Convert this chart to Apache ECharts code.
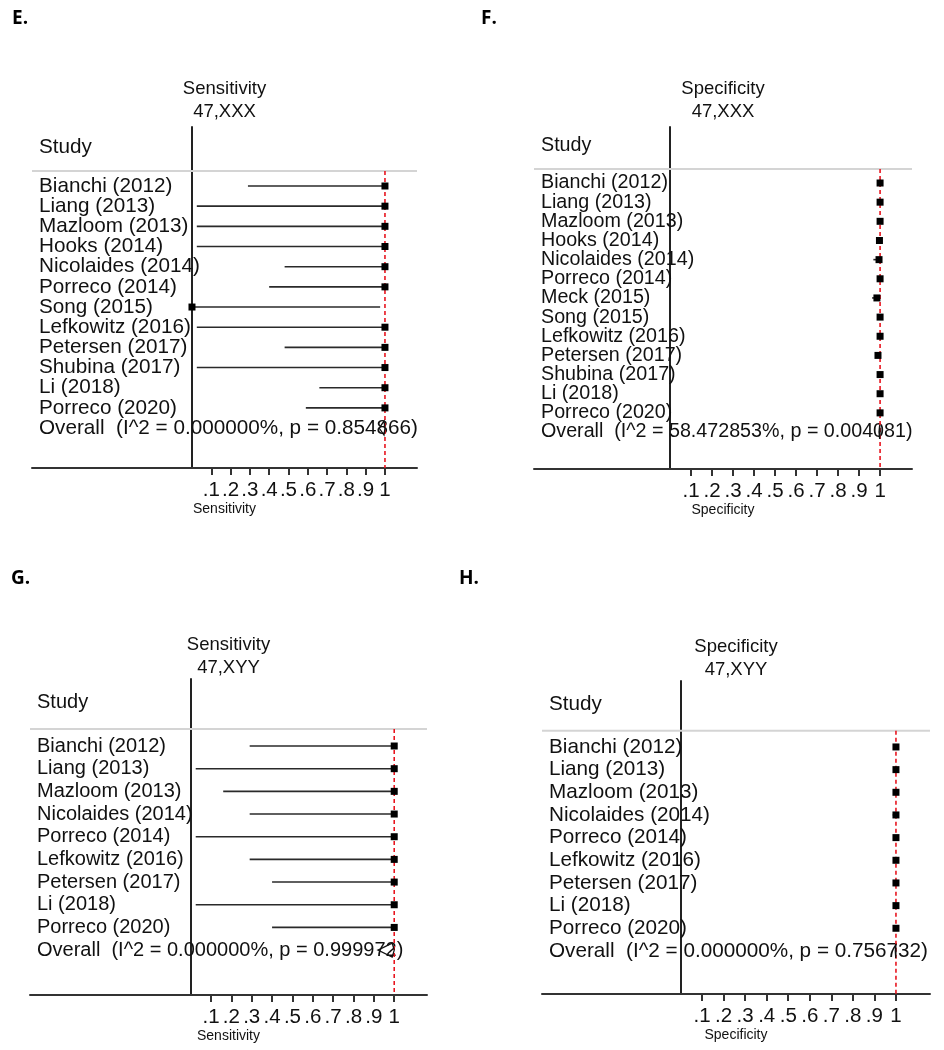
<!DOCTYPE html>
<html>
<head>
<meta charset="utf-8">
<script src="https://cdn.jsdelivr.net/npm/echarts@6/dist/echarts.min.js"></script>
<style>
html,body{margin:0;padding:0;background:#fff;}
#chart{width:944px;height:1050px;}
</style>
</head>
<body>
<div id="chart"></div>
<script>
// ---------------- DATA ----------------
const xTickValues = [0.1, 0.2, 0.3, 0.4, 0.5, 0.6, 0.7, 0.8, 0.9, 1];
const xTickLabels = ['.1', '.2', '.3', '.4', '.5', '.6', '.7', '.8', '.9', '1'];
const headerText = 'Study';

// Panel E: Sensitivity 47,XXX
const studiesE = ['Bianchi (2012)', 'Liang (2013)', 'Mazloom (2013)', 'Hooks (2014)', 'Nicolaides (2014)', 'Porreco (2014)', 'Song (2015)', 'Lefkowitz (2016)', 'Petersen (2017)', 'Shubina (2017)', 'Li (2018)', 'Porreco (2020)'];
const estE  = [1, 1, 1, 1, 1, 1, 0, 1, 1, 1, 1, 1];
const lowE  = [0.29, 0.025, 0.025, 0.025, 0.48, 0.40, 0, 0.025, 0.48, 0.025, 0.66, 0.59];
const highE = [1, 1, 1, 1, 1, 1, 0.975, 1, 1, 1, 1, 1];
const overallTextE = 'Overall  (I^2 = 0.000000%, p = 0.854866)';
const overallE = [0.97, 0.995, 1.0];

// Panel F: Specificity 47,XXX
const studiesF = ['Bianchi (2012)', 'Liang (2013)', 'Mazloom (2013)', 'Hooks (2014)', 'Nicolaides (2014)', 'Porreco (2014)', 'Meck (2015)', 'Song (2015)', 'Lefkowitz (2016)', 'Petersen (2017)', 'Shubina (2017)', 'Li (2018)', 'Porreco (2020)'];
const estF  = [1, 1, 1, 0.997, 0.995, 1, 0.985, 1, 1, 0.99, 1, 1, 1];
const lowF  = [0.995, 0.995, 0.995, 0.993, 0.968, 0.995, 0.962, 0.99, 0.995, 0.986, 0.995, 0.995, 0.995];
const highF = [1, 1, 1, 1, 1, 1, 0.997, 1, 1, 0.995, 1, 1, 1];
const overallTextF = 'Overall  (I^2 = 58.472853%, p = 0.004081)';
const overallF = [0.995, 0.998, 1.0];

// Panel G: Sensitivity 47,XYY
const studiesG = ['Bianchi (2012)', 'Liang (2013)', 'Mazloom (2013)', 'Nicolaides (2014)', 'Porreco (2014)', 'Lefkowitz (2016)', 'Petersen (2017)', 'Li (2018)', 'Porreco (2020)'];
const estG  = [1, 1, 1, 1, 1, 1, 1, 1, 1];
const lowG  = [0.29, 0.025, 0.16, 0.29, 0.025, 0.29, 0.40, 0.025, 0.40];
const highG = [1, 1, 1, 1, 1, 1, 1, 1, 1];
const overallTextG = 'Overall  (I^2 = 0.000000%, p = 0.999972)';
const overallG = [0.92, 0.99, 1.0];

// Panel H: Specificity 47,XYY
const studiesH = ['Bianchi (2012)', 'Liang (2013)', 'Mazloom (2013)', 'Nicolaides (2014)', 'Porreco (2014)', 'Lefkowitz (2016)', 'Petersen (2017)', 'Li (2018)', 'Porreco (2020)'];
const estH  = [1, 1, 1, 1, 1, 1, 1, 1, 1];
const lowH  = [0.995, 0.995, 0.995, 0.985, 0.995, 0.995, 0.995, 0.995, 0.995];
const highH = [1, 1, 1, 1, 1, 1, 1, 1, 1];
const overallTextH = 'Overall  (I^2 = 0.000000%, p = 0.756732)';
const overallH = [0.997, 0.999, 1.0];

// ---------------- LAYOUT / STYLE ----------------
const FONT = '"Liberation Sans", Arial, sans-serif';
const TXT = '#111';

const panels = [
  { letter: 'E.', letterX: 12, letterY: 19, title1: 'Sensitivity', title2: '47,XXX', axisName: 'Sensitivity', labelSize: 20.7,
    grid: { left: 32, top: 127, width: 385, height: 341 }, xMin: -0.829, xMax: 1.166,
    yMin: -2.925, yMax: 13.98, headerRow: -1.93, sepRow: -0.74, titleY1: 89, titleY2: 112,
    studies: studiesE, est: estE, low: lowE, high: highE, overallText: overallTextE, overall: overallE },
  { letter: 'F.', letterX: 481, letterY: 19, title1: 'Specificity', title2: '47,XXX', axisName: 'Specificity', labelSize: 19.7,
    grid: { left: 534, top: 127, width: 378, height: 342 }, xMin: -0.648, xMax: 1.152,
    yMin: -2.924, yMax: 14.93, headerRow: -1.93, sepRow: -0.73, titleY1: 89, titleY2: 112,
    studies: studiesF, est: estF, low: lowF, high: highF, overallText: overallTextF, overall: overallF },
  { letter: 'G.', letterX: 11, letterY: 579, title1: 'Sensitivity', title2: '47,XYY', axisName: 'Sensitivity', labelSize: 20.0,
    grid: { left: 30, top: 679, width: 397, height: 316 }, xMin: -0.789, xMax: 1.161,
    yMin: -2.955, yMax: 10.98, headerRow: -1.94, sepRow: -0.75, titleY1: 645, titleY2: 668,
    studies: studiesG, est: estG, low: lowG, high: highG, overallText: overallTextG, overall: overallG },
  { letter: 'H.', letterX: 459, letterY: 579, title1: 'Specificity', title2: '47,XYY', axisName: 'Specificity', labelSize: 20.7,
    grid: { left: 542, top: 681, width: 388, height: 313 }, xMin: -0.643, xMax: 1.158,
    yMin: -2.91, yMax: 10.9, headerRow: -1.9, sepRow: -0.71, titleY1: 647, titleY2: 670,
    studies: studiesH, est: estH, low: lowH, high: highH, overallText: overallTextH, overall: overallH }
];

const grids = [], xAxes = [], yAxes = [], series = [], graphics = [];

panels.forEach((p, k) => {
  grids.push(Object.assign({ containLabel: false }, p.grid));
  const cx = p.grid.left + p.grid.width / 2;

  graphics.push({ type: 'text', x: p.letterX, y: p.letterY,
    style: { text: p.letter, font: 'bold 19px "Open Sans", "Liberation Sans", sans-serif', fill: '#000', verticalAlign: 'middle', align: 'left' } });
  graphics.push({ type: 'text', x: cx, y: p.titleY1,
    style: { text: p.title1, font: '18.5px ' + FONT, fill: TXT, align: 'center', verticalAlign: 'middle' } });
  graphics.push({ type: 'text', x: cx, y: p.titleY2,
    style: { text: p.title2, font: '18.5px ' + FONT, fill: TXT, align: 'center', verticalAlign: 'middle' } });

  xAxes.push({
    gridIndex: k, type: 'value', min: p.xMin, max: p.xMax, position: 'bottom',
    name: p.axisName, nameLocation: 'middle', nameGap: 34,
    nameTextStyle: { fontSize: 14, fontFamily: FONT, color: TXT },
    axisLine: { onZero: false, lineStyle: { color: '#333', width: 2 } },
    axisTick: { show: true, customValues: xTickValues, length: 7, lineStyle: { color: '#333', width: 2 } },
    axisLabel: { customValues: xTickValues, margin: 12, fontSize: 20.5, fontFamily: FONT, color: TXT,
      formatter: v => { const i = xTickValues.findIndex(t => Math.abs(t - v) < 1e-6); return i >= 0 ? xTickLabels[i] : ''; } },
    splitLine: { show: false }
  });
  yAxes.push({
    gridIndex: k, type: 'value', inverse: true, min: p.yMin, max: p.yMax,
    axisLine: { show: true, onZero: true, lineStyle: { color: '#222', width: 2 } },
    axisTick: { show: false }, axisLabel: { show: false }, splitLine: { show: false }
  });

  // study labels + header + overall text
  const labelRows = [{ name: headerText, row: p.headerRow }]
    .concat(p.studies.map((s, i) => ({ name: s, row: i })))
    .concat([{ name: p.overallText, row: p.studies.length }]);
  series.push({
    type: 'custom', xAxisIndex: k, yAxisIndex: k, silent: true, z: 3,
    data: labelRows.map(r => [0, r.row]),
    renderItem: (params, api) => {
      const y = api.coord([0, api.value(1)])[1];
      return { type: 'text', x: params.coordSys.x + 7, y: y,
        style: { text: labelRows[params.dataIndex].name, font: p.labelSize + 'px ' + FONT, fill: TXT, align: 'left', verticalAlign: 'middle' } };
    }
  });

  // separator line (gray)
  series.push({
    type: 'line', xAxisIndex: k, yAxisIndex: k, silent: true, symbol: 'none', z: 1,
    data: [[p.xMin, p.sepRow], [p.xMax, p.sepRow]],
    lineStyle: { color: '#d4d4d4', width: 2 }
  });

  // CI lines and squares
  series.push({
    type: 'custom', xAxisIndex: k, yAxisIndex: k, silent: true, z: 5,
    data: p.studies.map((s, i) => [p.low[i], p.est[i], p.high[i], i]),
    renderItem: (params, api) => {
      const r = api.value(3);
      const a = api.coord([api.value(0), r]);
      const b = api.coord([api.value(2), r]);
      const e = api.coord([api.value(1), r]);
      const sz = 7;
      return { type: 'group', children: [
        { type: 'line', shape: { x1: a[0], y1: a[1], x2: b[0], y2: b[1] }, style: { stroke: '#2a2a2a', lineWidth: 1.6 } },
        { type: 'rect', shape: { x: e[0] - sz / 2, y: e[1] - sz / 2, width: sz, height: sz }, style: { fill: '#000' } }
      ] };
    }
  });

  // overall diamond
  series.push({
    type: 'custom', xAxisIndex: k, yAxisIndex: k, silent: true, z: 6,
    data: [[p.overall[0], p.overall[1], p.overall[2], p.studies.length]],
    renderItem: (params, api) => {
      const r = api.value(3);
      const a = api.coord([api.value(0), r]);
      const e = api.coord([api.value(1), r]);
      const b = api.coord([api.value(2), r]);
      const h = 7;
      return { type: 'polygon', shape: { points: [[a[0], a[1]], [e[0], e[1] - h], [b[0], b[1]], [e[0], e[1] + h]] },
        style: { fill: 'none', stroke: '#111', lineWidth: 1.3 } };
    }
  });

  // red dashed reference line at 1
  series.push({
    type: 'line', xAxisIndex: k, yAxisIndex: k, silent: true, symbol: 'none', z: 4,
    data: [[1, p.sepRow], [1, p.yMax]],
    lineStyle: { color: '#e8141e', width: 1.6, type: [4, 3] }
  });
});

const chart = echarts.init(document.getElementById('chart'), null, { renderer: 'canvas' });
chart.setOption({
  animation: false,
  backgroundColor: '#fff',
  grid: grids, xAxis: xAxes, yAxis: yAxes, series: series,
  graphic: graphics
});
</script>
</body>
</html>
